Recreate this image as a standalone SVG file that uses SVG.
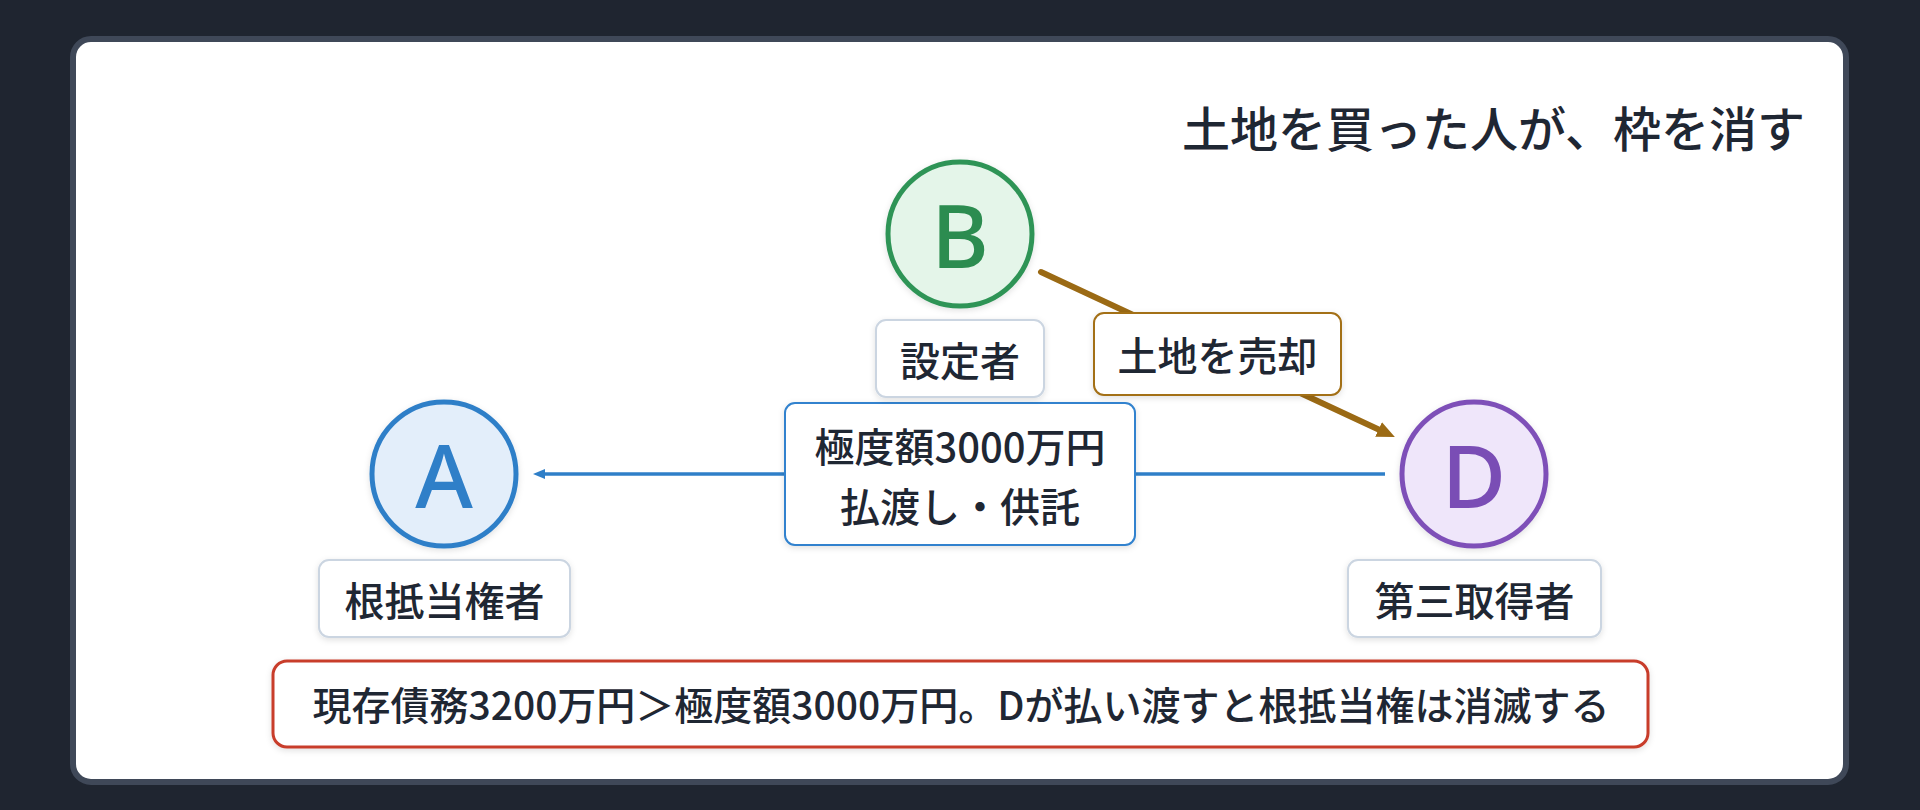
<svg xmlns="http://www.w3.org/2000/svg" width="1920" height="810" viewBox="0 0 1920 810">
  <style>
    .jp { font-family: "Noto Sans CJK JP", "Noto Sans", sans-serif; fill: #1f2733; font-weight: 500; }
    .lbl { font-size: 40px; }
    .letter { font-family: "Noto Sans", "Liberation Sans", sans-serif; font-size: 88px; font-weight: 500; }
    .tag { fill: #ffffff; stroke: #cbd5e1; stroke-width: 2; }
  </style>
  <defs>
    <filter id="sh" x="-20%" y="-20%" width="140%" height="150%">
      <feDropShadow dx="0" dy="2" stdDeviation="3" flood-color="#000000" flood-opacity="0.12"/>
    </filter>
    <marker id="arrBrown" markerUnits="userSpaceOnUse" markerWidth="18" markerHeight="16" refX="6" refY="8" orient="auto">
      <path d="M0,0 L18,8 L0,16 z" fill="#9b6a14"/>
    </marker>
    <marker id="arrBlue" markerUnits="userSpaceOnUse" markerWidth="12" markerHeight="10" refX="4" refY="5" orient="auto">
      <path d="M0,0 L12,5 L0,10 z" fill="#2f7fc8"/>
    </marker>
  </defs>

  <rect x="0" y="0" width="1920" height="810" fill="#1f2530"/>
  <rect x="73" y="39" width="1773" height="743" rx="18" fill="#ffffff" stroke="#3f4858" stroke-width="6"/>

  <text class="jp" x="1805" y="126" font-size="48" text-anchor="end" dominant-baseline="central">土地を買った人が、枠を消す</text>

  <g id="connectors">
    <line x1="1041" y1="272" x2="1384" y2="432" stroke="#9b6a14" stroke-width="6" stroke-linecap="round" marker-end="url(#arrBrown)"/>
    <line x1="1385" y1="474" x2="541" y2="474" stroke="#2f7fc8" stroke-width="3.5" marker-end="url(#arrBlue)"/>
    <g id="label-sale">
      <rect x="1094" y="313" width="247" height="82" rx="10" fill="#ffffff" stroke="#a36f16" stroke-width="2" filter="url(#sh)"/>
      <text class="jp lbl" x="1217.5" y="354" text-anchor="middle" dominant-baseline="central">土地を売却</text>
    </g>
    <g id="label-pay">
      <rect x="785" y="403" width="350" height="142" rx="10" fill="#ffffff" stroke="#3182ce" stroke-width="2" filter="url(#sh)"/>
      <text class="jp lbl" x="960" y="444.5" text-anchor="middle" dominant-baseline="central">極度額3000万円</text>
      <text class="jp lbl" x="960" y="504.5" text-anchor="middle" dominant-baseline="central">払渡し・供託</text>
    </g>
  </g>

  <g id="node-A">
    <circle cx="444" cy="474" r="72" fill="#e3eefa" stroke="#2f7fc8" stroke-width="5" filter="url(#sh)"/>
    <text class="letter" x="444" y="474" fill="#2f7fc8" text-anchor="middle" dominant-baseline="central">A</text>
    <rect class="tag" x="319" y="560" width="251" height="77" rx="10" filter="url(#sh)"/>
    <text class="jp lbl" x="444.5" y="598.5" text-anchor="middle" dominant-baseline="central">根抵当権者</text>
  </g>

  <g id="node-B">
    <circle cx="960" cy="234" r="72" fill="#e4f5e9" stroke="#2f9457" stroke-width="5" filter="url(#sh)"/>
    <text class="letter" x="960" y="234" fill="#2c8c50" text-anchor="middle" dominant-baseline="central">B</text>
    <rect class="tag" x="876" y="320" width="168" height="77" rx="10" filter="url(#sh)"/>
    <text class="jp lbl" x="960" y="358.5" text-anchor="middle" dominant-baseline="central">設定者</text>
  </g>

  <g id="node-D">
    <circle cx="1474" cy="474" r="72" fill="#efe6fa" stroke="#7e50b8" stroke-width="5" filter="url(#sh)"/>
    <text class="letter" x="1474" y="474" fill="#7a4db5" text-anchor="middle" dominant-baseline="central">D</text>
    <rect class="tag" x="1348" y="560" width="253" height="77" rx="10" filter="url(#sh)"/>
    <text class="jp lbl" x="1474.5" y="598.5" text-anchor="middle" dominant-baseline="central">第三取得者</text>
  </g>

  <g id="note">
    <rect x="273" y="661" width="1375" height="86" rx="14" fill="#ffffff" stroke="#c83c2c" stroke-width="3" filter="url(#sh)"/>
    <text class="jp" x="961" y="703" font-size="39" text-anchor="middle" dominant-baseline="central">現存債務3200万円＞極度額3000万円。Dが払い渡すと根抵当権は消滅する</text>
  </g>
</svg>
